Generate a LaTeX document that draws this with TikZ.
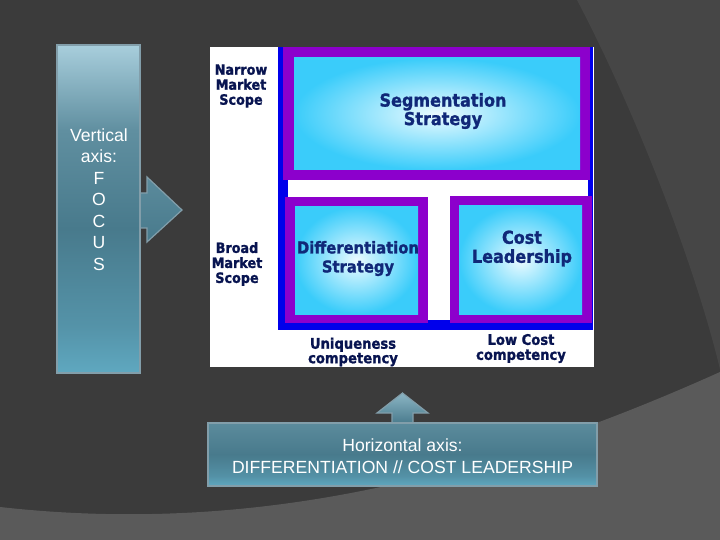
\documentclass[tikz,border=0pt]{standalone}
\usepackage{fontspec}
\setmainfont{Liberation Sans}
\newfontfamily\djv{DejaVu Sans}[FakeStretch=0.9, BoldFeatures={FakeBold=1.3}]
\definecolor{bgdark}{RGB}{59,59,59}
\definecolor{bgmid}{RGB}{70,70,70}
\definecolor{bglight}{RGB}{90,90,90}
\definecolor{tealtop}{RGB}{168,206,220}
\definecolor{tealmid}{RGB}{72,122,140}
\definecolor{tealbot}{RGB}{95,168,192}
\definecolor{tealedge}{RGB}{130,158,170}
\definecolor{chartblue}{RGB}{0,0,235}
\definecolor{purp}{RGB}{140,0,204}
\definecolor{cyanedge}{RGB}{58,204,250}
\definecolor{cyancore}{RGB}{236,251,255}
\definecolor{navy}{RGB}{16,40,120}
\definecolor{darknavy}{RGB}{8,20,80}
\pgfdeclareverticalshading{vaxis}{100bp}{color(0bp)=(tealbot); color(25bp)=(tealbot); color(32bp)=(tealbot!55!tealmid); color(47bp)=(tealmid); color(62bp)=(tealmid!75!tealtop); color(75bp)=(tealtop); color(100bp)=(tealtop)}
\pgfdeclareverticalshading{haxis}{100bp}{color(0bp)=(tealbot); color(25bp)=(tealbot); color(33bp)=(tealbot!50!tealmid); color(50bp)=(tealmid); color(75bp)=(tealmid!80!tealtop); color(100bp)=(tealmid!80!tealtop)}
\begin{document}
\begin{tikzpicture}[x=1pt,y=-1pt,
  axisbox/.style={draw=tealedge, line width=1.5pt, inner sep=0pt},
  axistext/.style={text=white, align=center, inner sep=0pt, font=\fontsize{17.6}{21.5}\selectfont},
  purpbox/.style={fill=purp},
  cyanbox/.style={inner color=cyancore, outer color=cyanedge},
  strat/.style={text=navy, align=center, inner sep=0pt, font=\djv\bfseries\fontsize{17.8}{18.5}\selectfont},
  smalllab/.style={text=darknavy, align=center, inner sep=0pt, font=\djv\bfseries\fontsize{14.2}{15}\selectfont}]
\useasboundingbox (0,0) rectangle (720,540);
% background
\fill[bgdark] (0,0) rectangle (720,540);
\fill[bgmid] (577,0) .. controls (640,120) and (700,280) .. (722,378) -- (722,0) -- cycle;
\fill[bglight] (0,507) .. controls (250,535) and (480,480) .. (720,372) -- (720,540) -- (0,540) -- cycle;

% vertical axis arrow and box
\draw[tealedge, line width=1.2pt, top color=tealmid!80!tealtop, bottom color=tealmid]
  (140,193) -- (147,193) -- (147,177) -- (182,210) -- (147,242) -- (147,228) -- (140,228) -- cycle;
\node[axisbox, minimum width=83pt, minimum height=328pt, shading=vaxis] (vbox) at (98.5,209) {};
\node[axistext] (vtext) at (99,199.5) {Vertical\\axis:\\F\\O\\C\\U\\S};

% horizontal axis arrow and box
\draw[tealedge, line width=1.2pt, top color=tealtop!70!tealmid, bottom color=tealmid]
  (392,424) -- (392,413) -- (377,413) -- (402.5,393) -- (428,413) -- (413,413) -- (413,424) -- cycle;
\node[axisbox, minimum width=389pt, minimum height=63pt, shading=haxis] (hbox) at (402.5,454.5) {};
\node[axistext, font=\fontsize{17.6}{22}\selectfont] (htext) at (402.5,456) {Horizontal axis:\\DIFFERENTIATION // COST LEADERSHIP};

% chart
\fill[white] (210,47.5) rectangle (594,367);
\fill[chartblue] (278,47.5) rectangle (593,330);
\fill[white] (288,180) rectangle (588,320);
\fill[purpbox] (283,47.5) rectangle (590,180);
\fill[cyanbox] (294,58) rectangle (580,170);
\fill[purpbox] (285,197) rectangle (428,323);
\fill[cyanbox] (295,207) rectangle (418,314);
\fill[purpbox] (450,196) rectangle (592,323);
\fill[cyanbox] (459,206) rectangle (582,314);

\node[strat] (seg) at (443,111) {Segmentation\\Strategy};
\node[strat, font=\djv\bfseries\fontsize{16.4}{19}\selectfont] (diff) at (358,258.5) {Differentiation\\Strategy};
\node[strat, font=\djv\bfseries\fontsize{17.8}{19}\selectfont] (cost) at (522,248.5) {Cost\\Leadership};
\node[smalllab] (narrow) at (241,86) {Narrow\\Market\\Scope};
\node[smalllab] (broad) at (237,264) {Broad\\Market\\Scope};
\node[smalllab, font=\djv\bfseries\fontsize{14.6}{14.5}\selectfont] (uniq) at (353,352) {Uniqueness\\competency};
\node[smalllab, font=\djv\bfseries\fontsize{14.6}{15}\selectfont] (low) at (521,348.5) {Low Cost\\competency};
\end{tikzpicture}
\end{document}
